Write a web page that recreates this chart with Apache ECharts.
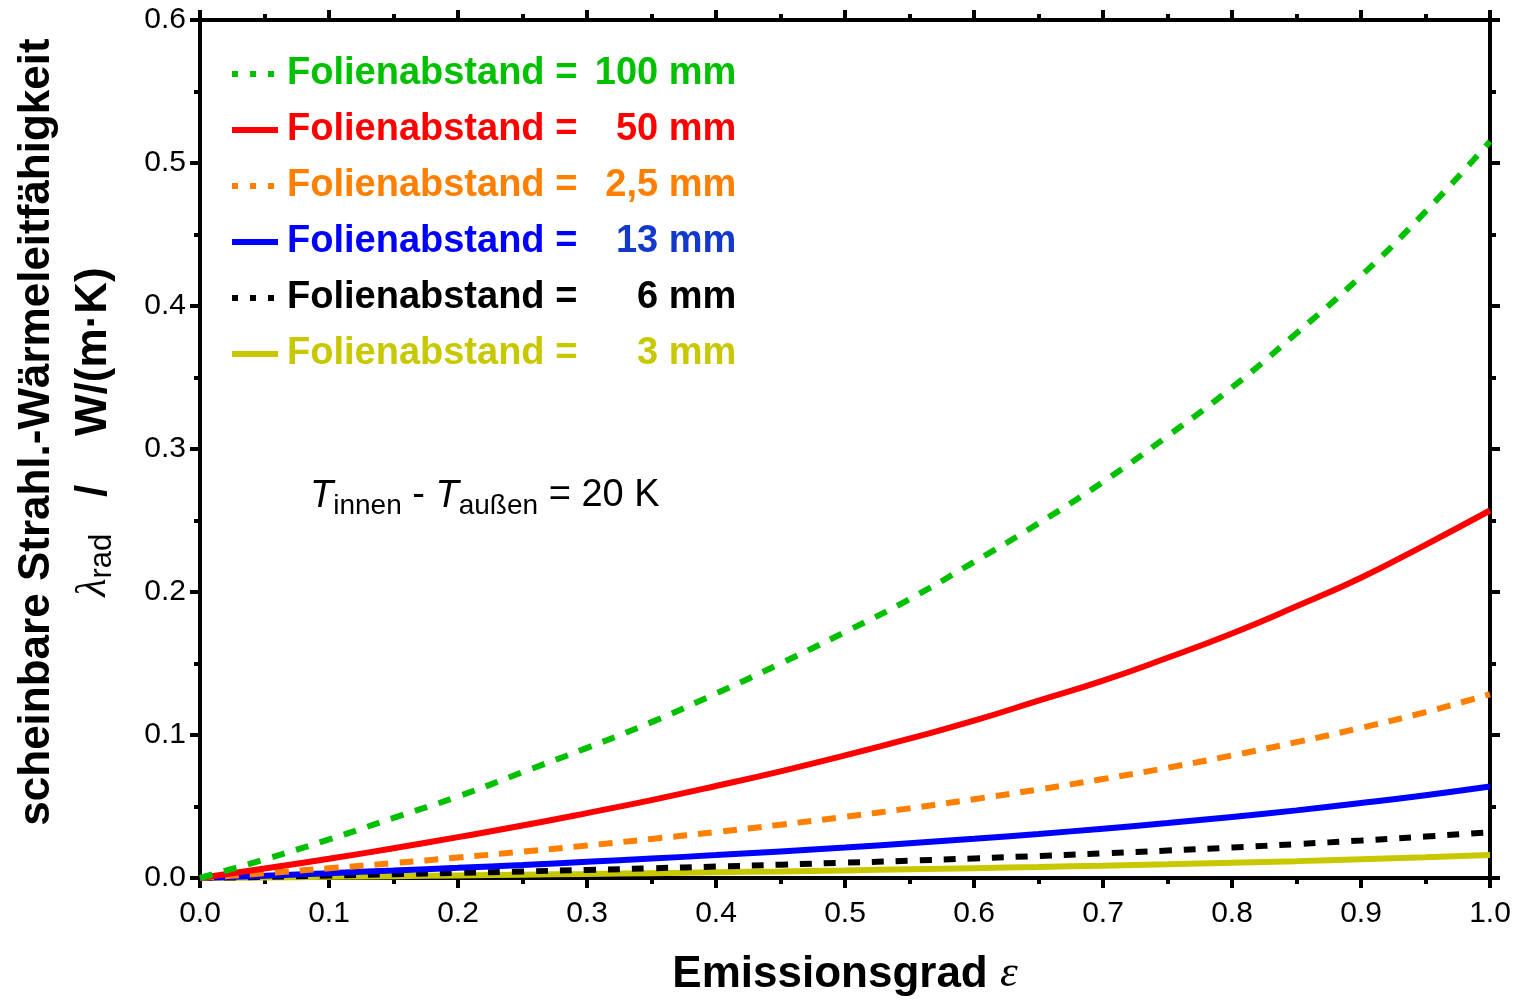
<!DOCTYPE html>
<html>
<head>
<meta charset="utf-8">
<script src="https://cdn.jsdelivr.net/npm/echarts@6/dist/echarts.min.js"></script>
<style>
html,body{margin:0;padding:0;background:#fff;}
#c{width:1520px;height:1002px;}
</style>
</head>
<body>
<div id="c"></div>
<script>
// Emissionsgrad epsilon
const eps = [0,0.05,0.1,0.15,0.2,0.25,0.3,0.35,0.4,0.45,0.5,0.55,0.6,0.65,0.7,0.75,0.8,0.85,0.9,0.95,1.0];
const xTicks = ['0.0','0.1','0.2','0.3','0.4','0.5','0.6','0.7','0.8','0.9','1.0'];
const yTicks = ['0.0','0.1','0.2','0.3','0.4','0.5','0.6'];

const names = ['100 mm','50 mm','2,5 mm','13 mm','6 mm','3 mm'];
const d100 = [0,0.013,0.027,0.042,0.057,0.074,0.091,0.109,0.129,0.150,0.172,0.195,0.221,0.248,0.277,0.309,0.343,0.381,0.421,0.466,0.515];
const d50  = [0,0.0066,0.0135,0.0208,0.0286,0.0367,0.0454,0.0545,0.0643,0.0746,0.0857,0.0975,0.110,0.124,0.138,0.154,0.171,0.190,0.210,0.233,0.257];
const d25  = [0,0.0033,0.0068,0.0104,0.0143,0.0184,0.0227,0.0273,0.0321,0.0373,0.0428,0.0487,0.0551,0.0619,0.0692,0.0771,0.0857,0.095,0.105,0.116,0.1285];
const d13  = [0,0.0016,0.0034,0.0052,0.0071,0.0091,0.0113,0.0136,0.016,0.0186,0.0213,0.0243,0.0274,0.0308,0.0345,0.0384,0.0427,0.0473,0.0524,0.0579,0.064];
const d6   = [0,0.0008,0.0017,0.0026,0.0036,0.0046,0.0056,0.0068,0.008,0.0093,0.0107,0.0121,0.0137,0.0154,0.0172,0.0192,0.0213,0.0237,0.0262,0.029,0.032];
const d3   = [0,0.0004,0.0008,0.0013,0.0018,0.0023,0.0028,0.0034,0.004,0.0046,0.0053,0.0061,0.0069,0.0077,0.0086,0.0096,0.0107,0.0118,0.0131,0.0145,0.016];

const colors = ['#00c000','#ff0000','#ff8000','#0000ff','#000000','#c8c800'];
const valColors = ['#00c000','#ff0000','#ff8000','#1238cc','#000000','#c8c800'];
const dashes = [[13,12],'solid',[14,11],'solid',[12,12],'solid'];
const legendDash = [[6,12],'solid',[6,12],'solid',[6,12],'solid'];
const datas = [d100,d50,d25,d13,d6,d3];

const SANS = 'Liberation Sans, Arial, sans-serif';
const SERIF = 'Liberation Serif, Times New Roman, serif';

const series = datas.map((d,i)=>({
  name: 'Folienabstand = ' + names[i],
  type: 'line',
  data: eps.map((e,j)=>[e,d[j]]),
  showSymbol: false,
  symbol: 'none',
  smooth: true,
  z: 10 - i,
  lineStyle: {color: colors[i], width: 6, type: dashes[i]},
  itemStyle: {color: colors[i]}
}));

const legendData = names.map((n,i)=>({
  name: 'Folienabstand = ' + n,
  lineStyle: {color: colors[i], width: 6, type: legendDash[i]},
  itemStyle: {color: 'rgba(0,0,0,0)', borderWidth: 0, opacity: 0},
  textStyle: {
    color: colors[i],
    rich: {
      n: {color: colors[i], fontSize: 38, fontWeight: 'bold', fontFamily: SANS, padding:[0,0,0,4]},
      v: {color: valColors[i], fontSize: 38, fontWeight: 'bold', fontFamily: SANS, width: 159, align: 'right'}
    }
  }
}));

const axisCommon = {
  axisLine: {show: true, onZero: false, lineStyle: {color: '#000', width: 4}},
  axisTick: {show: true, inside: false, length: 10, lineStyle: {color: '#000', width: 4}},
  minorTick: {show: true, splitNumber: 2, length: 6, lineStyle: {color: '#000', width: 4}},
  splitLine: {show: false},
  minorSplitLine: {show: false}
};

const chart = echarts.init(document.getElementById('c'), null, {renderer: 'canvas'});
chart.setOption({
  animation: false,
  backgroundColor: '#fff',
  grid: {left: 200, right: 30, top: 20, bottom: 120, containLabel: false},
  legend: {
    show: true,
    orient: 'vertical',
    left: 229,
    top: 52,
    padding: 0,
    itemWidth: 46,
    itemHeight: 14,
    itemGap: 12,
    selectedMode: false,
    data: legendData,
    formatter: function(name){
      const v = name.replace('Folienabstand = ','');
      return '{n|Folienabstand =}{v|' + v + '}';
    },
    textStyle: {fontSize: 38, fontWeight: 'bold', fontFamily: SANS, lineHeight: 44}
  },
  xAxis: [
    Object.assign({
      type: 'value', position: 'bottom', min: 0, max: 1, interval: 0.1,
      name: '{b|Emissionsgrad }{e|ε}',
      nameLocation: 'middle', nameGap: 74,
      nameTextStyle: {rich: {
        b: {fontSize: 44, fontWeight: 'bold', fontFamily: SANS, color: '#000'},
        e: {fontSize: 45, fontStyle: 'italic', fontFamily: SERIF, color: '#000'}
      }},
      axisLabel: {show: true, margin: 21, fontSize: 30, fontFamily: SANS, color: '#000',
        formatter: function(v){ return xTicks[Math.round(v*10)]; }}
    }, axisCommon),
    Object.assign({
      type: 'value', position: 'top', min: 0, max: 1, interval: 0.1,
      axisLabel: {show: false}
    }, axisCommon)
  ],
  yAxis: [
    Object.assign({
      type: 'value', position: 'left', min: 0, max: 0.6, interval: 0.1,
      name: '{a|scheinbare Strahl.-Wärmeleitfähigkeit}\n{l|λ}{r|rad}{a|   /    W/(m·K)}',
      nameLocation: 'middle', nameGap: 78, nameRotate: 90,
      nameTextStyle: {align: 'center', padding: [0,0,0,34], rich: {
        a: {fontSize: 44, fontWeight: 'bold', fontFamily: SANS, color: '#000', lineHeight: 57},
        l: {fontSize: 42, fontStyle: 'italic', fontFamily: SERIF, color: '#000', lineHeight: 57},
        r: {fontSize: 31, fontFamily: SANS, color: '#000', lineHeight: 57, verticalAlign: 'bottom', padding: [0,0,4,0]}
      }},
      axisLabel: {show: true, margin: 14, fontSize: 30, fontFamily: SANS, color: '#000',
        formatter: function(v){ return yTicks[Math.round(v*10)]; }}
    }, axisCommon),
    Object.assign({
      type: 'value', position: 'right', min: 0, max: 0.6, interval: 0.1,
      axisLabel: {show: false}
    }, axisCommon)
  ],
  graphic: [{
    type: 'text',
    left: 310,
    top: 477,
    style: {
      text: '{t|T}{s|innen}{m| - }{t|T}{s|außen}{m| = 20 K}',
      rich: {
        t: {fontSize: 38, fontStyle: 'italic', fontFamily: SANS, fill: '#000', lineHeight: 48},
        s: {fontSize: 28, fontFamily: SANS, fill: '#000', lineHeight: 48, verticalAlign: 'bottom', padding: [0,0,0,0]},
        m: {fontSize: 38, fontFamily: SANS, fill: '#000', lineHeight: 48}
      }
    }
  }],
  series: series
});
</script>
</body>
</html>
